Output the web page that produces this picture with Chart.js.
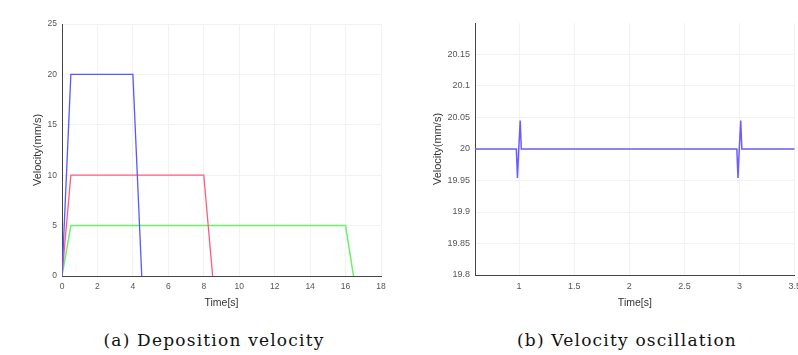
<!DOCTYPE html>
<html>
<head>
<meta charset="utf-8">
<script src="https://cdn.jsdelivr.net/npm/chart.js@4"></script>
<style>
html,body{margin:0;padding:0;background:#fff;width:798px;height:355px;overflow:hidden;position:relative;}
.box{position:absolute;top:0;height:313px;}
#boxA{left:0;width:400px;}
#boxB{left:400px;width:407px;}
.cap{position:absolute;top:330px;font-family:"DejaVu Serif",serif;font-size:17px;letter-spacing:1.2px;color:#111;white-space:nowrap;transform:translateX(-50%);}
</style>
</head>
<body>
<div class="box" id="boxA"><canvas id="cA"></canvas></div>
<div class="box" id="boxB"><canvas id="cB"></canvas></div>
<div class="cap" style="left:214px">(a) Deposition velocity</div>
<div class="cap" style="left:627px">(b) Velocity oscillation</div>
<script>
// ---- data (a) Deposition velocity ----
const timeBlue = [0, 0.5, 4, 4.5];
const velBlue  = [0, 20, 20, 0];
const timeRed  = [0, 0.5, 8, 8.5];
const velRed   = [0, 10, 10, 0];
const timeGreen = [0, 0.5, 16, 16.45];
const velGreen  = [0, 5, 5, 0];
const xTicksA = [0, 2, 4, 6, 8, 10, 12, 14, 16, 18];
const yTicksA = [0, 5, 10, 15, 20, 25];

// ---- data (b) Velocity oscillation ----
const timeOsc = [0.6, 0.975, 0.985, 0.997, 1.01, 1.02, 2.975, 2.985, 2.997, 3.01, 3.02, 3.5];
const velOsc  = [20, 20, 19.954, 20, 20.045, 20, 20, 19.954, 20, 20.045, 20, 20];
const xTicksB = [1, 1.5, 2, 2.5, 3, 3.5];
const yTicksB = [19.8, 19.85, 19.9, 19.95, 20, 20.05, 20.1, 20.15];

const pts = (xs, ys) => xs.map((x, i) => ({x, y: ys[i]}));
const FAM = "'Liberation Sans', Arial, sans-serif";

function axes(xmin, xmax, xt, ymin, ymax, yt, yW, xH, ydec, tsize) {
  const tickFont = {family: FAM, size: tsize};
  return {
    x: {
      type: 'linear', min: xmin, max: xmax,
      afterBuildTicks: s => { s.ticks = xt.map(v => ({value: v})); },
      afterFit: s => { s.height = xH; },
      grid: {color: '#f2f2f2', drawTicks: false},
      border: {color: '#444', width: 1},
      ticks: {font: tickFont, color: '#555', padding: 6, maxRotation: 0, autoSkip: false,
              callback: v => String(v)},
      title: {display: true, text: 'Time[s]', font: {family: FAM, size: 10.5}, color: '#333', padding: {top: 0, bottom: 4}}
    },
    y: {
      type: 'linear', min: ymin, max: ymax,
      afterBuildTicks: s => { s.ticks = yt.map(v => ({value: v})); },
      afterFit: s => { s.width = yW; },
      grid: {color: '#f2f2f2', drawTicks: false},
      border: {color: '#444', width: 1},
      ticks: {font: tickFont, color: '#555', padding: 5, autoSkip: false,
              callback: v => String(+v.toFixed(ydec))},
      title: {display: true, text: 'Velocity(mm/s)', font: {family: FAM, size: 11}, color: '#333', padding: {top: 0, bottom: 0}}
    }
  };
}

new Chart(document.getElementById('cA'), {
  type: 'line',
  data: {datasets: [
    {data: pts(timeBlue, velBlue), borderColor: '#5858ff', borderWidth: 1.3, pointRadius: 0, fill: false},
    {data: pts(timeRed, velRed), borderColor: '#ff5c7c', borderWidth: 1.3, pointRadius: 0, fill: false},
    {data: pts(timeGreen, velGreen), borderColor: '#6cf06c', borderWidth: 1.5, pointRadius: 0, fill: false}
  ]},
  options: {
    responsive: true, maintainAspectRatio: false, animation: false,
    layout: {padding: {left: 31, right: 19, top: 24, bottom: 0}},
    plugins: {legend: {display: false}, tooltip: {enabled: false}},
    scales: axes(0, 18, xTicksA, 0, 25, yTicksA, 31, 37, 0, 8.5)
  }
});

new Chart(document.getElementById('cB'), {
  type: 'line',
  data: {datasets: [
    {data: pts(timeOsc, velOsc), borderColor: '#6a5cff', borderWidth: 1.5, pointRadius: 0, fill: false}
  ]},
  options: {
    responsive: true, maintainAspectRatio: false, animation: false,
    layout: {padding: {left: 31, right: 4, top: 23, bottom: 0}},
    plugins: {legend: {display: false}, tooltip: {enabled: false}},
    scales: axes(0.6, 3.5, xTicksB, 19.8, 20.2, yTicksB, 44, 38, 2, 9)
  }
});
</script>
</body>
</html>
